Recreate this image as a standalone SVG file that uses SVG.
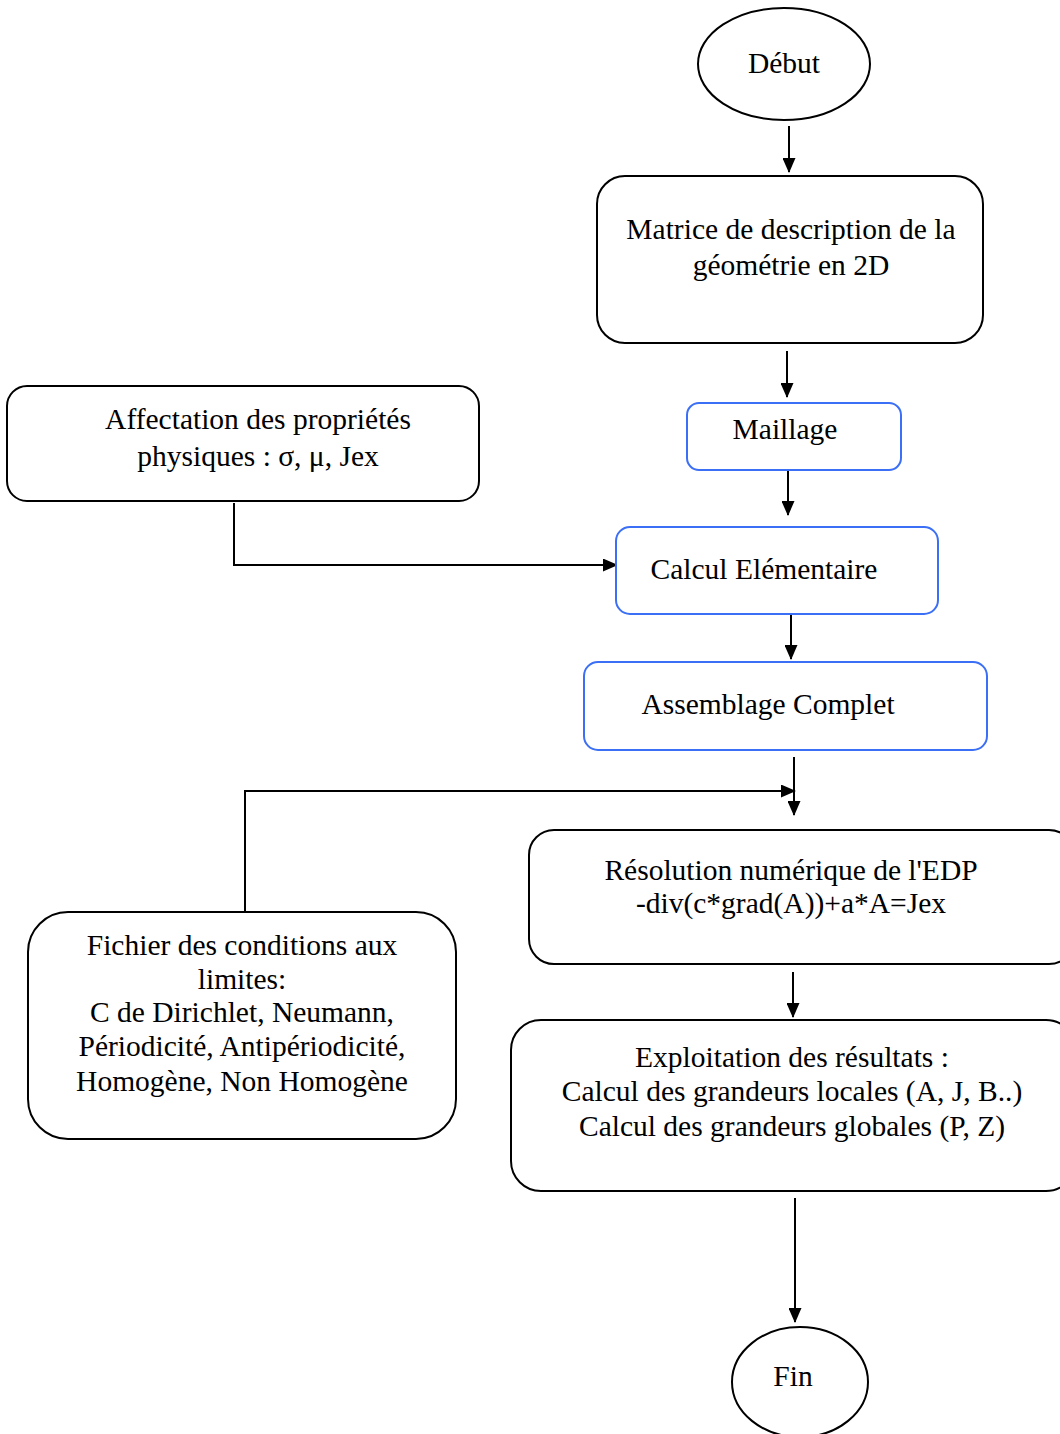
<svg xmlns="http://www.w3.org/2000/svg" width="1060" height="1434" viewBox="0 0 1060 1434">
<style>
text{font-family:"Liberation Serif","Times New Roman",serif;font-size:29.5px;fill:#000;text-anchor:middle}
.bk{fill:#fff;stroke:#000;stroke-width:2}
.bl{fill:#fff;stroke:#3b6ff5;stroke-width:2}
.c{fill:none;stroke:#000;stroke-width:2}
</style>
<defs>
<marker id="ah" markerWidth="15" markerHeight="13" refX="14" refY="6.5" orient="auto" markerUnits="userSpaceOnUse">
<path d="M0,0 L15,6.5 L0,13 Z" fill="#000"/>
</marker>
</defs>
<rect width="1060" height="1434" fill="#fff"/>
<g id="connectors">
<line class="c" x1="789" y1="126" x2="789" y2="172" marker-end="url(#ah)"/>
<line class="c" x1="787" y1="351" x2="787" y2="397" marker-end="url(#ah)"/>
<line class="c" x1="788" y1="471" x2="788" y2="515" marker-end="url(#ah)"/>
<polyline class="c" points="234,503 234,565 617,565" marker-end="url(#ah)"/>
<line class="c" x1="791" y1="615" x2="791" y2="659" marker-end="url(#ah)"/>
<line class="c" x1="794" y1="757" x2="794" y2="815" marker-end="url(#ah)"/>
<polyline class="c" points="245,912 245,791 795,791" marker-end="url(#ah)"/>
<line class="c" x1="793" y1="972" x2="793" y2="1017" marker-end="url(#ah)"/>
<line class="c" x1="795" y1="1198" x2="795" y2="1322" marker-end="url(#ah)"/>
</g>
<g id="debut">
<ellipse class="bk" cx="784" cy="64" rx="86" ry="56"/>
<text x="784" y="73">Début</text>
</g>
<g id="matrice">
<rect class="bk" x="597" y="176" width="386" height="167" rx="28"/>
<text x="791" y="239">Matrice de description de la</text>
<text x="791" y="275">géométrie en 2D</text>
</g>
<g id="maillage">
<rect class="bl" x="687" y="403" width="214" height="67" rx="12"/>
<text x="785" y="439">Maillage</text>
</g>
<g id="affectation">
<rect class="bk" x="7" y="386" width="472" height="115" rx="20"/>
<text x="258" y="429">Affectation des propriétés</text>
<text x="258" y="466">physiques : σ, μ, Jex</text>
</g>
<g id="calcul">
<rect class="bl" x="616" y="527" width="322" height="87" rx="14"/>
<text x="764" y="579">Calcul Elémentaire</text>
</g>
<g id="assemblage">
<rect class="bl" x="584" y="662" width="403" height="88" rx="14"/>
<text x="768" y="714">Assemblage Complet</text>
</g>
<g id="resolution">
<rect class="bk" x="529" y="830" width="545" height="134" rx="25"/>
<text x="791" y="880">Résolution numérique de l'EDP</text>
<text x="791" y="913">-div(c*grad(A))+a*A=Jex</text>
</g>
<g id="fichier">
<rect class="bk" x="28" y="912" width="428" height="227" rx="40"/>
<text x="242" y="955">Fichier des conditions aux</text>
<text x="242" y="989">limites:</text>
<text x="242" y="1022">C de Dirichlet, Neumann,</text>
<text x="242" y="1056">Périodicité, Antipériodicité,</text>
<text x="242" y="1091">Homogène, Non Homogène</text>
</g>
<g id="exploitation">
<rect class="bk" x="511" y="1020" width="565" height="171" rx="30"/>
<text x="792" y="1067">Exploitation des résultats :</text>
<text x="792" y="1101">Calcul des grandeurs locales (A, J, B..)</text>
<text x="792" y="1136">Calcul des grandeurs globales (P, Z)</text>
</g>
<g id="fin">
<ellipse class="bk" cx="800" cy="1382" rx="68" ry="55"/>
<text x="793" y="1386">Fin</text>
</g>
</svg>
